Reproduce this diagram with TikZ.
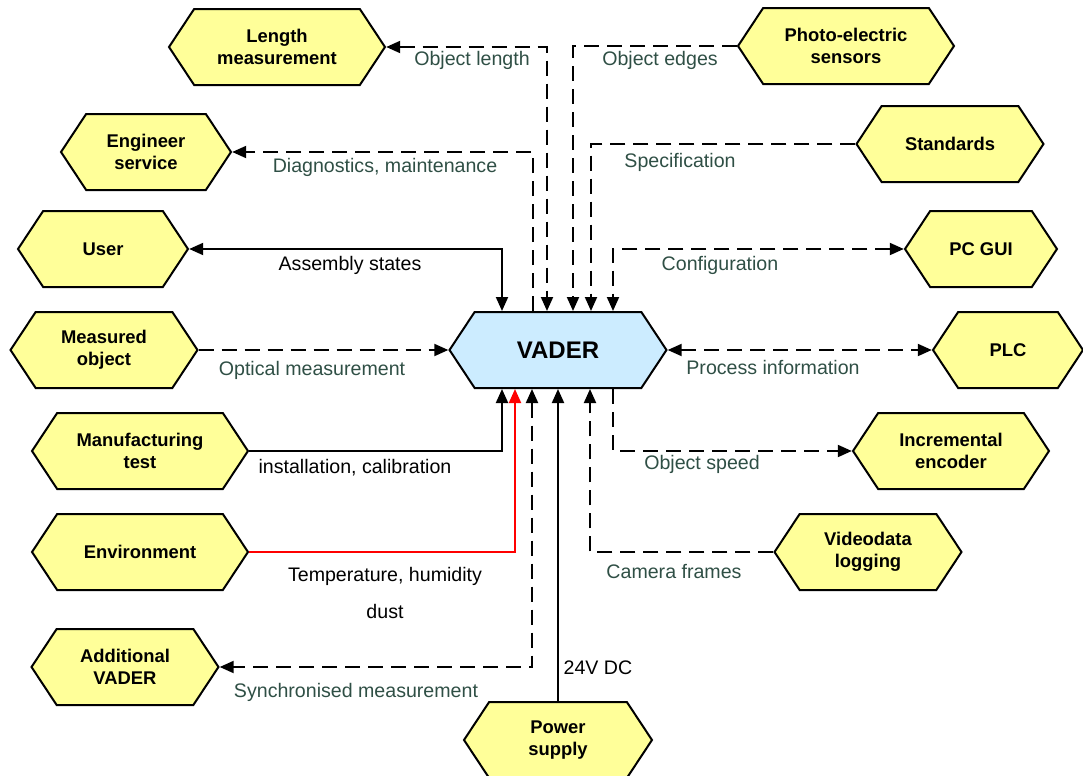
\documentclass[tikz,border=0pt]{standalone}
\usepackage{fontspec}
\setmainfont{Liberation Sans}
\usepackage{tikz}
\usetikzlibrary{shapes.symbols, arrows.meta, positioning}
\definecolor{hexyellow}{RGB}{255,255,153}
\definecolor{hexblue}{RGB}{204,236,255}
\definecolor{flowgreen}{RGB}{47,79,69}

\begin{document}
\begin{tikzpicture}[x=0.5pt, y=-0.5pt,
    >={Triangle[length=7pt,width=6pt]},
    hexbox/.style={signal, signal to=west and east, signal pointer angle=113,
        draw, line width=1pt, fill=hexyellow, minimum width=#1, minimum height=38pt,
        inner sep=0pt, align=center, font=\fontsize{9.2}{11}\selectfont\bfseries},
    hexbox/.default=108pt,
    link/.style={line width=1pt},
    dline/.style={link, dash pattern=on 7.5pt off 4pt},
    lbl/.style={anchor=base, text=flowgreen, font=\fontsize{9.8}{11}\selectfont},
    lblblack/.style={lbl, text=black}]
    \useasboundingbox (0,0) rectangle (1083,776);

    % Central unit
    \node[hexbox=108.5pt, fill=hexblue, font=\fontsize{12}{14}\selectfont\bfseries]
        (vader) at (558,350) {VADER};

    % Left column
    \node[hexbox=108pt] (lm) at (277,47) {Length\\measurement};
    \node[hexbox=85pt] (eng) at (146,152) {Engineer\\service};
    \node[hexbox=85pt] (user) at (103,249) {User};
    \node[hexbox=93.5pt] (mobj) at (104,350) {Measured\\object};
    \node[hexbox=108pt] (mtest) at (140,451) {Manufacturing\\test};
    \node[hexbox=108pt] (env) at (140,552) {Environment};
    \node[hexbox=93.5pt] (addv) at (125,667) {Additional\\VADER};

    % Right column
    \node[hexbox=108pt] (pe) at (846,46) {Photo-electric\\sensors};
    \node[hexbox=93.5pt] (std) at (950,144) {Standards};
    \node[hexbox=76pt] (pcgui) at (981,249) {PC GUI};
    \node[hexbox=75pt] (plc) at (1008,350) {PLC};
    \node[hexbox=98pt] (inc) at (951,451) {Incremental\\encoder};
    \node[hexbox=93.5pt] (video) at (868,552) {Videodata\\logging};
    \node[hexbox=94pt] (power) at (558,740) {Power\\supply};

    % Connections above VADER
    \draw[dline, <->] (lm.east) -| ([xshift=-5.5pt]vader.north);
    \draw[dline, ->] (pe.west) -| ([xshift=7.5pt]vader.north);
    \draw[dline, ->] ([xshift=-12.5pt]vader.north) |- (eng.east);
    \draw[dline, ->] (std.west) -| ([xshift=16.5pt]vader.north);
    \draw[link, <->] (user.east) -| ([xshift=-28pt]vader.north);
    \draw[dline, <->] (pcgui.west) -| ([xshift=27.5pt]vader.north);

    % Connections beside VADER
    \draw[dline, ->] (mobj.east) -- (vader.west);
    \draw[dline, <->] (vader.east) -- (plc.west);

    % Connections below VADER
    \draw[link, ->] (mtest.east) -| ([xshift=-28pt]vader.south);
    \draw[link, red, ->] (env.east) -| ([xshift=-21.5pt]vader.south);
    \draw[dline, <->] ([xshift=-13pt]vader.south) |- (addv.east);
    \draw[link, ->] (power.north) -- (vader.south);
    \draw[dline, ->] (video.west) -| ([xshift=16pt]vader.south);
    \draw[dline, ->] ([xshift=27.5pt]vader.south) |- (inc.west);

    % Labels
    \node[lbl] (t-len) at (472,65) {Object length};
    \node[lbl] (t-edge) at (660,65) {Object edges};
    \node[lbl] (t-diag) at (385,172) {Diagnostics, maintenance};
    \node[lbl] (t-spec) at (680,167) {Specification};
    \node[lblblack] (t-asm) at (350,270) {Assembly states};
    \node[lbl] (t-conf) at (720,270) {Configuration};
    \node[lbl] (t-opt) at (312,375) {Optical measurement};
    \node[lbl] (t-proc) at (773,374) {Process information};
    \node[lblblack] (t-inst) at (355,473) {installation, calibration};
    \node[lbl] (t-speed) at (702,469) {Object speed};
    \node[lblblack] (t-temp) at (385,581) {Temperature, humidity};
    \node[lblblack] (t-dust) at (385,618) {dust};
    \node[lbl] (t-cam) at (674,578) {Camera frames};
    \node[lbl] (t-sync) at (356,697) {Synchronised measurement};
    \node[lblblack] (t-dc) at (598,674) {24V DC};
\end{tikzpicture}
\end{document}
